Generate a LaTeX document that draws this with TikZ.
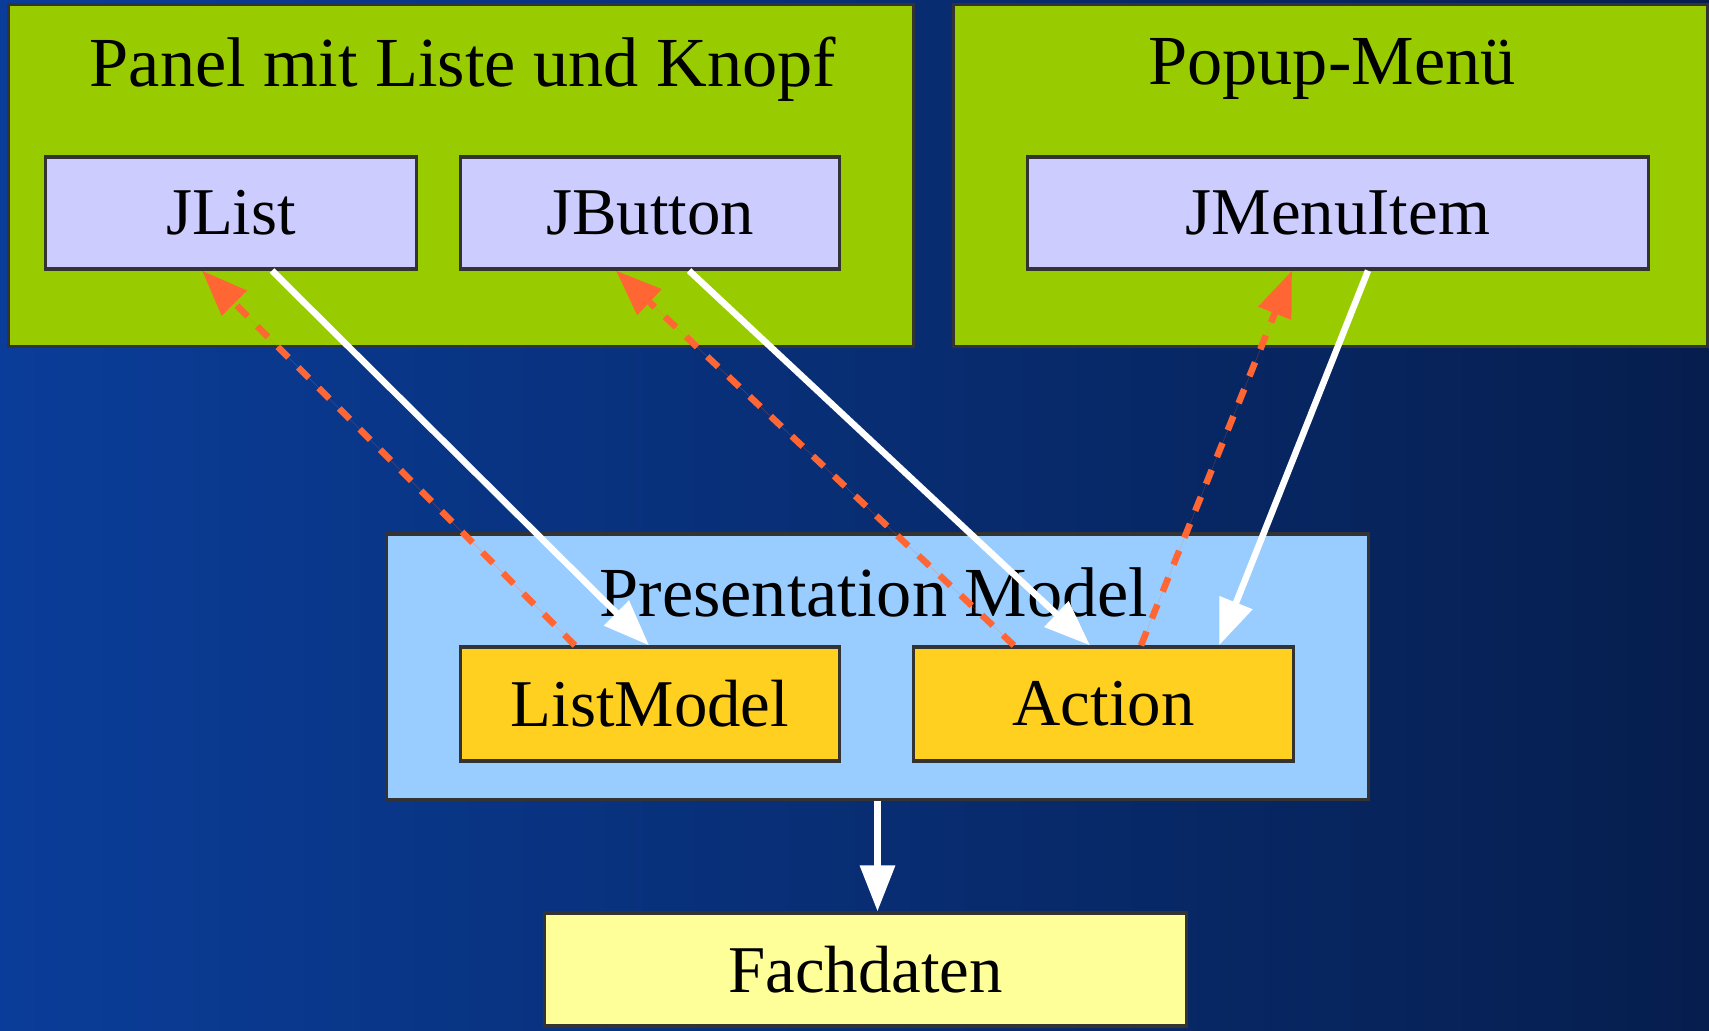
\documentclass[tikz,border=0pt]{standalone}
\usepackage{fontspec}
\setmainfont{Liberation Serif}
\usepackage{xcolor}
\usetikzlibrary{arrows.meta, positioning, calc}
\definecolor{bgleft}{HTML}{0A3D99}
\definecolor{bgright}{HTML}{061E4E}
\definecolor{boxline}{HTML}{333333}
\definecolor{panelgreen}{HTML}{99CC00}
\definecolor{widgetblue}{HTML}{CCCCFF}
\definecolor{modelblue}{HTML}{99CCFF}
\definecolor{modelgold}{HTML}{FFD020}
\definecolor{datayellow}{HTML}{FFFF99}
\definecolor{linkorange}{HTML}{FF6633}
\tikzset{
  panel/.style={rectangle,draw=boxline,line width=0.9pt,fill=panelgreen,
    minimum height=3.41cm,inner sep=0pt},
  title/.style={font=\fontsize{20}{23}\selectfont,inner sep=0pt},
  widget/.style={rectangle,draw=boxline,line width=0.9pt,fill=widgetblue,
    minimum height=1.12cm,font=\fontsize{19}{22}\selectfont},
  pmbox/.style={rectangle,draw=boxline,line width=0.9pt,fill=modelblue,
    minimum width=9.81cm,minimum height=2.65cm,inner sep=0pt},
  modelbox/.style={rectangle,draw=boxline,line width=0.9pt,fill=modelgold,
    minimum width=3.78cm,minimum height=1.14cm,font=\fontsize{19}{22}\selectfont},
  databox/.style={rectangle,draw=boxline,line width=0.9pt,fill=datayellow,
    minimum width=6.41cm,minimum height=1.13cm,font=\fontsize{19}{22}\selectfont},
  arrow/.style={-{Triangle[length=0.46cm,width=0.34cm]},line width=0.065cm,draw=white},
  dasharrow/.style={-{Triangle[length=0.46cm,width=0.34cm]},line width=0.065cm,
    draw=linkorange,fill=linkorange,dash pattern=on 0.15cm off 0.14cm}
}

\begin{document}
\begin{tikzpicture}[x=0.01cm,y=-0.01cm]
  \useasboundingbox (0,0) rectangle (1709,1030);
  \fill[left color=bgleft,right color=bgright] (0,0) rectangle (1709,1030);

  % view side
  \node[panel,minimum width=9.04cm] (listpanel) at (461,175.5) {};
  \node[title] (listtitle) at (463,69) {Panel mit Liste und Knopf};
  \node[panel,minimum width=7.53cm] (popup) at (1330.5,175.5) {};
  \node[title] (popuptitle) at (1332,69) {Popup-Menü};
  \node[widget,minimum width=3.70cm] (jlist) at (231,213) {JList};
  \node[widget,minimum width=3.78cm] (jbutton) at (650,213) {JButton};
  \node[widget,minimum width=6.20cm] (jmenu) at (1338,213) {JMenuItem};

  % model side
  \node[pmbox] (pm) at (877.5,666.5) {};
  \node[title] (pmtitle) at (874,592) {Presentation Model};
  \node[modelbox] (listmodel) at (650,704) {ListModel};
  \node[modelbox,minimum width=3.79cm] (action) at (1103.5,704) {Action};
  \node[databox] (fachdaten) at (865.5,969.5) {Fachdaten};

  \draw[dasharrow] ([xshift=-0.75cm]listmodel.north) -- ([xshift=-0.29cm]jlist.south);
  \draw[dasharrow] ([xshift=-0.895cm]action.north) -- ([xshift=-0.34cm]jbutton.south);
  \draw[dasharrow] ([xshift=0.375cm]action.north) -- ([xshift=-0.46cm]jmenu.south);
  \draw[arrow] ([xshift=0.41cm]jlist.south) -- ([xshift=-0.01cm]listmodel.north);
  \draw[arrow] ([xshift=0.39cm]jbutton.south) -- ([xshift=-0.135cm]action.north);
  \draw[arrow] ([xshift=0.30cm]jmenu.south) -- ([xshift=1.155cm]action.north);
  \draw[arrow] (pm.south) -- (pm.south |- fachdaten.north);
\end{tikzpicture}
\end{document}
